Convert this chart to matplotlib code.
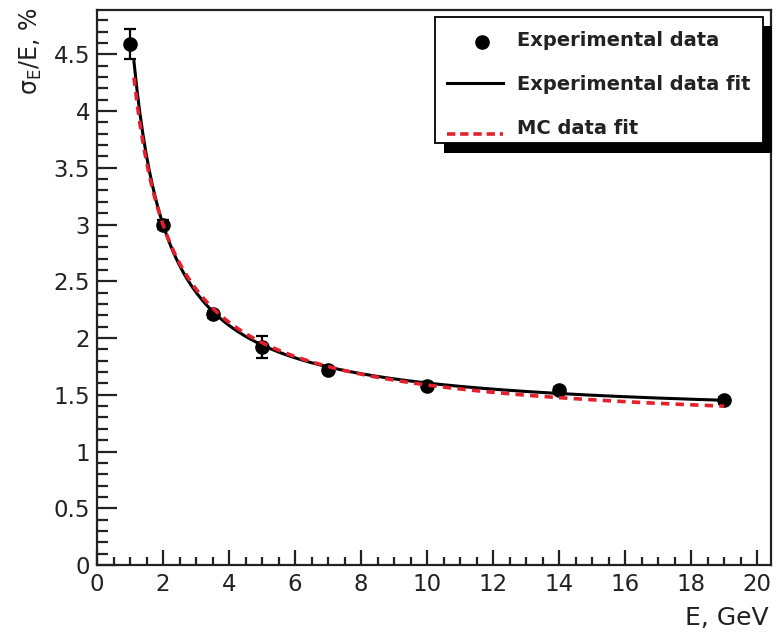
import numpy as np
import matplotlib
matplotlib.use('Agg')
import matplotlib.pyplot as plt
from matplotlib.patches import Rectangle
from matplotlib.lines import Line2D
from matplotlib.ticker import MultipleLocator

plt.rcParams['font.family'] = ['DejaVu Sans']
plt.rcParams['mathtext.default'] = 'regular'
plt.rcParams['lines.scale_dashes'] = False

# measured resolution points
energy = [1, 2, 3.5, 5, 7, 10, 14, 19]
resolution = [4.59, 3.0, 2.21, 1.92, 1.72, 1.58, 1.54, 1.45]
res_err = [0.13, 0.04, 0.03, 0.10, 0.03, 0.03, 0.03, 0.03]

# fit parameters for sigma/E = a/sqrt(E) (+) b (+) c/E
exp_fit = [2.77, 1.29, 3.74]
mc_fit = [3.20, 1.18, 3.15]
fit_range = [1.12, 19.0]

legend_labels = ['Experimental data', 'Experimental data fit', 'MC data fit']

W, H = 776, 632
TXT = '#222222'


def fx(px):
    return px / W


def fy(py):
    return 1 - py / H


def reso(e, p):
    a, b, c = p
    return np.sqrt(a**2 / e + b**2 + c**2 / e**2)


fig = plt.figure(figsize=(W / 100, H / 100), dpi=100)
ax = fig.add_axes([fx(97), fy(565), (771 - 97) / W, (565 - 10) / H])

e_grid = np.linspace(fit_range[0], fit_range[1], 400)
ax.plot(e_grid, reso(e_grid, exp_fit), color='black', lw=2.2, zorder=2)
ax.errorbar(energy, resolution, yerr=res_err, fmt='o', color='black', ms=9.5,
            elinewidth=1.6, capsize=4.5, capthick=1.6, zorder=3)
ax.plot(e_grid, reso(e_grid, mc_fit), color='#e3202c', lw=2.6, dashes=(6, 4.5), zorder=4)

ax.set_xlim(0, 20.42)
ax.set_ylim(0, 4.89)
ax.xaxis.set_major_locator(MultipleLocator(2))
ax.xaxis.set_minor_locator(MultipleLocator(0.5))
ax.yaxis.set_minor_locator(MultipleLocator(0.1))
ax.set_yticks(np.arange(0, 4.6, 0.5))
ax.set_yticklabels(['0', '0.5', '1', '1.5', '2', '2.5', '3', '3.5', '4', '4.5'])

ax.tick_params(axis='both', which='both', direction='in', top=False, right=False,
               width=1.6, labelsize=16.5, colors=TXT)
ax.tick_params(axis='x', which='major', length=11, pad=6)
ax.tick_params(axis='x', which='minor', length=6)
ax.tick_params(axis='y', which='major', length=14.5, pad=5)
ax.tick_params(axis='y', which='minor', length=8)
for s in ax.spines.values():
    s.set_linewidth(1.6)
    s.set_color(TXT)

fig.text(fx(31), fy(8), 'σ$_E$/E, %', rotation=90, ha='center', va='top',
         fontsize=17, color=TXT)
fig.text(fx(769), fy(618), 'E, GeV', ha='right', va='center', fontsize=18, color=TXT)

# legend box with ROOT-style shadow
fig.add_artist(Rectangle((fx(444), fy(153)), (772 - 444) / W, (153 - 26) / H,
                         transform=fig.transFigure, facecolor='black', edgecolor='none', zorder=5))
fig.add_artist(Rectangle((fx(435), fy(143)), (763 - 435) / W, (143 - 17) / H,
                         transform=fig.transFigure, facecolor='white', edgecolor='black',
                         lw=1.3, zorder=6))
fig.add_artist(Line2D([fx(482)], [fy(42)], marker='o', ms=9.5, color='black',
                      transform=fig.transFigure, zorder=7))
fig.add_artist(Line2D([fx(447), fx(503)], [fy(83), fy(83)], color='black', lw=2.2,
                      transform=fig.transFigure, zorder=7))
fig.add_artist(Line2D([fx(447), fx(503)], [fy(134), fy(134)], color='#e3202c', lw=2.6,
                      dashes=(6, 3.5), transform=fig.transFigure, zorder=7))
for row_y, lab in zip([40, 84, 129], legend_labels):
    fig.text(fx(517), fy(row_y), lab, ha='left', va='center', fontsize=14,
             fontweight='bold', color=TXT, zorder=8)

fig.savefig('out.png', dpi=100)
